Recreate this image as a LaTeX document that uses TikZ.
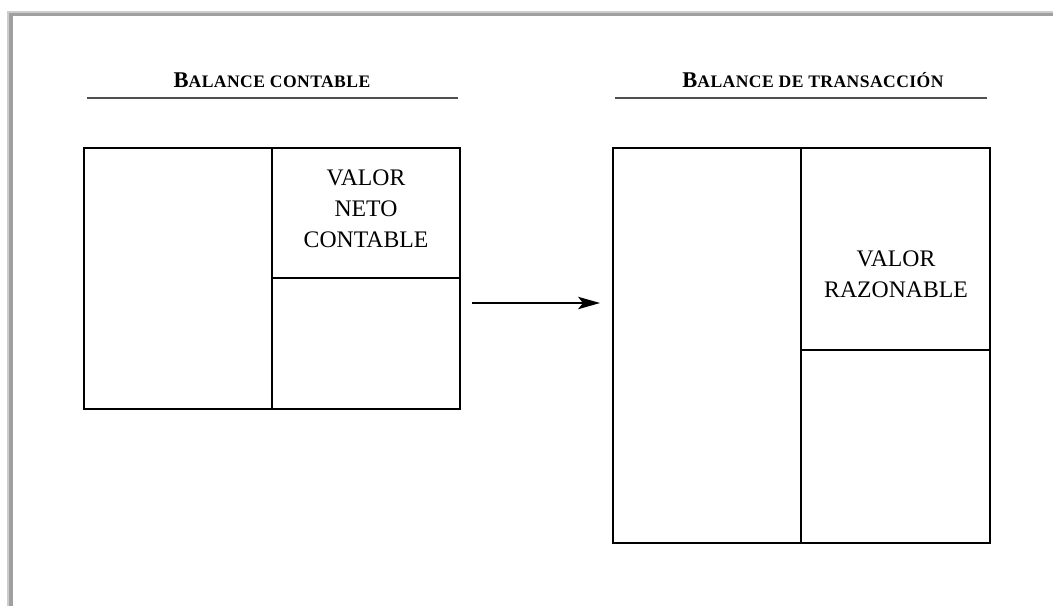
\documentclass[tikz,border=0pt]{standalone}
\usepackage{fontspec}
\setmainfont{Liberation Serif}
\usepackage{tikz}
\usetikzlibrary{arrows.meta, positioning, calc}
\definecolor{FrameGray}{RGB}{160,160,160}
\definecolor{FrameLight}{RGB}{205,205,205}
\definecolor{RuleGray}{RGB}{80,80,80}
\newcommand{\titsc}[2]{{\bfseries\fontsize{12.8}{14}\selectfont #1\fontsize{10}{12}\selectfont\addfontfeatures{LetterSpace=2.5}#2}}

\begin{document}
\begin{tikzpicture}[x=0.02cm, y=-0.02cm,
	cell/.style={draw=black, line width=0.75pt, inner sep=0pt, outer sep=0pt},
	txt/.style={align=center, inner sep=0pt, font=\fontsize{13.5}{17.6}\selectfont},
	tit/.style={anchor=base, inner sep=0pt},
	rule/.style={line width=1.4pt, RuleGray},
	arr/.style={line width=0.75pt, -{Stealth[length=0.44cm, width=0.25cm, inset=0.1cm]}}]
	\useasboundingbox (0,0) rectangle (1053,605);
	\clip (0,0) rectangle (1053,605);
	% marco
	\draw[FrameLight, line width=0.03cm] (8.2,640) -- (8.2,11.8) -- (1080,11.8);
	\draw[FrameGray, line width=0.065cm] (11,640) -- (11,14.5) -- (1080,14.5);
	% titulos
	\node[tit] (t1) at (272,87) {\titsc{B}{ALANCE CONTABLE}};
	\node[tit] (t2) at (813,87) {\titsc{B}{ALANCE DE TRANSACCIÓN}};
	\draw[rule] (87,98) -- (458,98);
	\draw[rule] (615,98) -- (987,98);
	% balance contable
	\node[cell, minimum width=3.76cm, minimum height=5.22cm] (cA) at (178,278.5) {};
	\node[cell, minimum width=3.76cm, minimum height=2.6cm] (cB) at (366,213) {};
	\node[cell, minimum width=3.76cm, minimum height=2.62cm] (cC) at (366,343.5) {};
	\node[txt] (vnc) at (366,209) {VALOR\\NETO\\CONTABLE};
	% balance de transaccion
	\node[cell, minimum width=3.76cm, minimum height=7.9cm] (tA) at (707,345.5) {};
	\node[cell, minimum width=3.78cm, minimum height=4.04cm] (tB) at (895.5,249) {};
	\node[cell, minimum width=3.78cm, minimum height=3.86cm] (tC) at (895.5,446.5) {};
	\node[txt] (vr) at (896,274) {VALOR\\RAZONABLE};
	% flecha
	\coordinate (a0) at (472,303);
	\coordinate (a1) at (600,303);
	\draw[arr] (a0) -- (a1);
\end{tikzpicture}
\end{document}
